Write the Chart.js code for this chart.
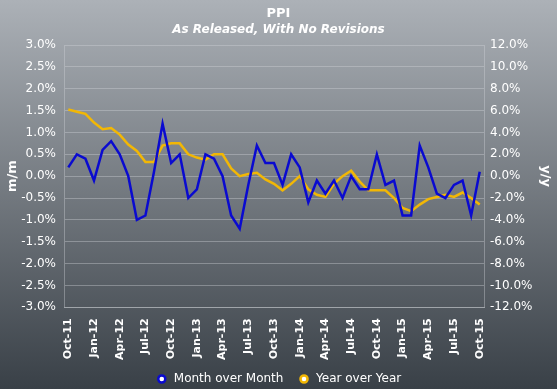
<!DOCTYPE html>
<html>
<head>
<meta charset="utf-8">
<script src="https://cdn.jsdelivr.net/npm/chart.js@4.4.1/dist/chart.umd.min.js"></script>
<style>
  html, body { margin: 0; padding: 0; }
  body { width: 557px; height: 389px; background: linear-gradient(#acb1b7, #394047); overflow: hidden; }
  #wrap { position: relative; width: 557px; height: 389px; }
</style>
</head>
<body>
<div id="wrap"><canvas id="ppi-chart"></canvas></div>
<script>
  // months, Oct-11 .. Oct-15
  const months = [
    'Oct-11', 'Nov-11', 'Dec-11', 'Jan-12', 'Feb-12', 'Mar-12', 'Apr-12', 'May-12', 'Jun-12', 'Jul-12', 'Aug-12', 'Sep-12',
    'Oct-12', 'Nov-12', 'Dec-12', 'Jan-13', 'Feb-13', 'Mar-13', 'Apr-13', 'May-13', 'Jun-13', 'Jul-13', 'Aug-13', 'Sep-13',
    'Oct-13', 'Nov-13', 'Dec-13', 'Jan-14', 'Feb-14', 'Mar-14', 'Apr-14', 'May-14', 'Jun-14', 'Jul-14', 'Aug-14', 'Sep-14',
    'Oct-14', 'Nov-14', 'Dec-14', 'Jan-15', 'Feb-15', 'Mar-15', 'Apr-15', 'May-15', 'Jun-15', 'Jul-15', 'Aug-15', 'Sep-15',
    'Oct-15'
  ];

  // month over month, % (left axis)
  const monthOverMonth = [
    0.2, 0.5, 0.4, -0.1, 0.6, 0.8, 0.5, 0.0, -1.0, -0.9, 0.1, 1.2,
    0.3, 0.5, -0.5, -0.3, 0.5, 0.4, 0.0, -0.9, -1.2, -0.2, 0.7, 0.3,
    0.3, -0.2, 0.5, 0.2, -0.6, -0.1, -0.4, -0.1, -0.5, 0.0, -0.3, -0.3,
    0.5, -0.2, -0.1, -0.9, -0.9, 0.7, 0.2, -0.4, -0.5, -0.2, -0.1, -0.9,
    0.1
  ];

  // year over year, % (right axis)
  const yearOverYear = [
    6.1, 5.9, 5.7, 4.9, 4.3, 4.4, 3.8, 2.9, 2.3, 1.3, 1.3, 2.8,
    3.0, 3.0, 2.0, 1.7, 1.5, 2.0, 2.0, 0.7, 0.0, 0.2, 0.3, -0.3,
    -0.7, -1.3, -0.7, 0.0, -1.2, -1.7, -1.9, -0.7, 0.0, 0.5, -0.5, -1.3,
    -1.3, -1.3, -2.0, -2.9, -3.2, -2.6, -2.1, -1.9, -1.7, -1.9, -1.5, -2.0,
    -2.6
  ];

  const leftTicks = { min: -3, max: 3, step: 0.5 };
  const rightTicks = { min: -12, max: 12, step: 2 };

  const font = 'DejaVu Sans';
  const gridColor = 'rgba(210,214,218,0.38)';

  const ctx = document.querySelector('#ppi-chart');

  new Chart(ctx, {
    type: 'line',
    data: {
      labels: months,
      datasets: [{
        label: 'Month over Month',
        data: monthOverMonth,
        yAxisID: 'y',
        borderColor: '#0a0ad0',
        backgroundColor: '#ffffff',
        borderWidth: 2.5,
        pointRadius: 0,
        pointStyle: 'circle',
        tension: 0
      }, {
        label: 'Year over Year',
        data: yearOverYear,
        yAxisID: 'y1',
        borderColor: '#f2b705',
        backgroundColor: '#ffffff',
        borderWidth: 2.5,
        pointRadius: 0,
        pointStyle: 'circle',
        tension: 0
      }]
    },
    options: {
      responsive: true,
      maintainAspectRatio: false,
      animation: false,
      layout: { padding: { top: 4, bottom: -6, left: 0, right: 0 } },
      plugins: {
        title: {
          display: true,
          text: 'PPI',
          color: '#ffffff',
          font: { family: font, size: 13, weight: 'bold' },
          padding: { top: 2, bottom: 0 }
        },
        subtitle: {
          display: true,
          text: 'As Released, With No Revisions',
          color: '#ffffff',
          font: { family: font, size: 12, weight: 'bold', style: 'italic' },
          padding: { top: 1, bottom: 8 }
        },
        legend: {
          position: 'bottom',
          labels: {
            color: '#ffffff',
            font: { family: font, size: 12 },
            usePointStyle: true,
            boxWidth: 12,
            boxHeight: 5,
            padding: 7,
            generateLabels: function (chart) {
              const items = Chart.defaults.plugins.legend.labels.generateLabels(chart);
              // a bit more room between the two entries
              if (items.length) items[0].text += '  ';
              return items;
            }
          }
        },
        tooltip: { enabled: false }
      },
      scales: {
        x: {
          offset: true,
          grid: { display: false },
          border: { display: true, color: gridColor },
          ticks: {
            color: '#ffffff',
            font: { family: font, size: 11, weight: 'bold' },
            autoSkip: false,
            maxRotation: 90,
            minRotation: 90,
            padding: 3,
            callback: function (value, index) {
              return index % 3 === 0 ? months[index] : '';
            }
          },
          afterFit: function (scale) { scale.height += 3; }
        },
        y: {
          position: 'left',
          min: leftTicks.min,
          max: leftTicks.max,
          grid: { color: gridColor, drawTicks: false },
          border: { color: gridColor },
          ticks: {
            stepSize: leftTicks.step,
            color: '#ffffff',
            font: { family: font, size: 12 },
            padding: 8,
            callback: v => v.toFixed(1) + '%'
          },
          title: {
            display: true,
            text: 'm/m',
            color: '#ffffff',
            font: { family: font, size: 13, weight: 'bold' },
            padding: { top: 5, bottom: 0 }
          },
          afterFit: function (scale) { scale.width = 64; }
        },
        y1: {
          position: 'right',
          min: rightTicks.min,
          max: rightTicks.max,
          grid: { drawOnChartArea: false, drawTicks: false },
          border: { color: gridColor },
          ticks: {
            stepSize: rightTicks.step,
            color: '#ffffff',
            font: { family: font, size: 12 },
            padding: 6,
            callback: v => v.toFixed(1) + '%'
          },
          title: {
            display: true,
            text: 'y/y',
            color: '#ffffff',
            font: { family: font, size: 13, weight: 'bold' },
            padding: { top: 4, bottom: 0 }
          },
          afterFit: function (scale) { scale.width = 73; }
        }
      }
    }
  });
</script>
</body>
</html>
